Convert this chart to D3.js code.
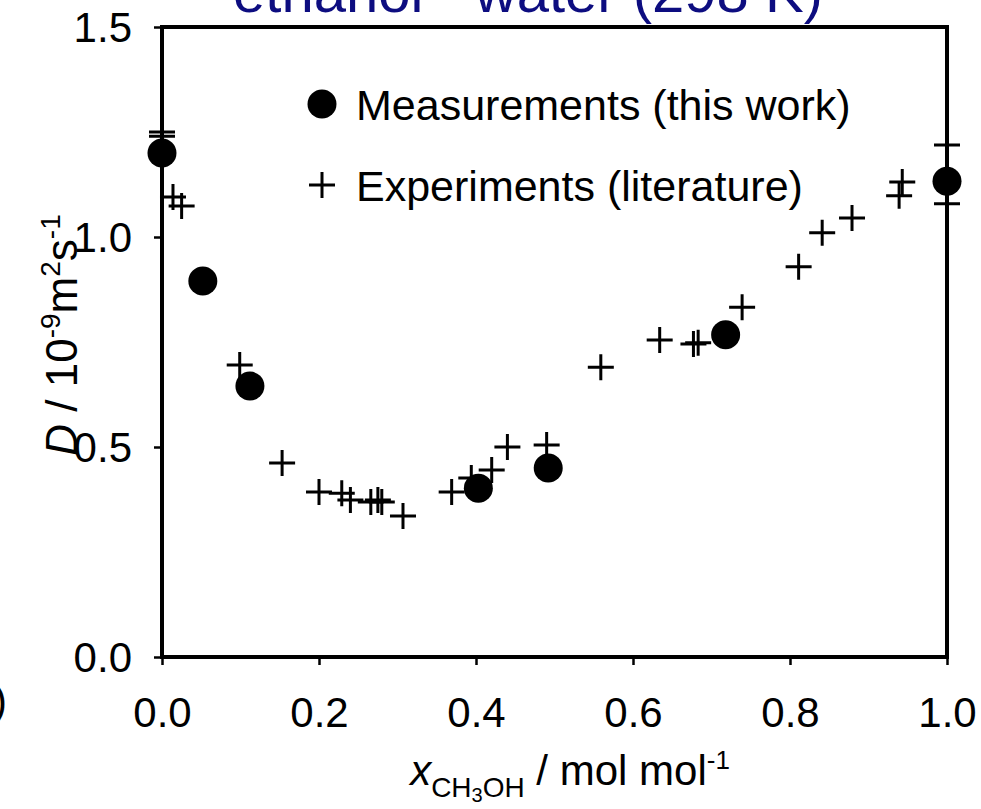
<!DOCTYPE html>
<html><head><meta charset="utf-8">
<script src="https://cdn.jsdelivr.net/npm/d3@7"></script>
<style>body{margin:0;background:#fff}svg{display:block}</style>
</head><body>
<svg id="c" width="981" height="809"></svg>
<script>
// Data
const measX = [0.0, 0.052, 0.112, 0.403, 0.492, 0.718, 1.0];
const measD = [1.20, 0.895, 0.645, 0.402, 0.450, 0.767, 1.133];
const litX = [0.0, 0.0, 0.014, 0.025, 0.099, 0.153, 0.200, 0.229, 0.240, 0.266, 0.275, 0.280, 0.307,
              0.369, 0.394, 0.420, 0.440, 0.490, 0.559, 0.634, 0.677, 0.683, 0.739, 0.811, 0.841,
              0.879, 0.939, 0.943, 1.0, 1.0];
const litD = [1.250, 1.240, 1.095, 1.074, 0.695, 0.462, 0.393, 0.390, 0.374, 0.369, 0.374, 0.369, 0.336,
              0.393, 0.426, 0.445, 0.500, 0.505, 0.690, 0.755, 0.745, 0.748, 0.833, 0.929, 1.010,
              1.045, 1.098, 1.131, 1.219, 1.079];
const xTicks = [0.0, 0.2, 0.4, 0.6, 0.8, 1.0];
const yTicks = [0.0, 0.5, 1.0, 1.5];
const titleText = "ethanol - water (298 K)";
const legendLabels = ["Measurements (this work)", "Experiments (literature)"];

const FONT = "'Liberation Sans', Arial, Helvetica, sans-serif";
const svg = d3.select("#c").style("font-family", FONT);
const L = 162, R = 947, T = 27, B = 657;
const x = d3.scaleLinear().domain([0, 1]).range([L, R]);
const y = d3.scaleLinear().domain([0, 1.5]).range([B, T]);

// title (partly cut off at top)
svg.append("text").attr("x", 528).attr("y", 12).attr("text-anchor", "middle")
  .attr("font-size", 58).attr("fill", "#0d0d80").text(titleText);

// partial panel label at far left
svg.append("text").attr("x", 7).attr("y", 715).attr("text-anchor", "end")
  .attr("font-size", 42).attr("fill", "#000").text("(b)");

// axes
const fmt = d3.format(".1f");
const gx = svg.append("g").attr("transform", `translate(0,${B})`)
  .call(d3.axisBottom(x).tickValues(xTicks).tickFormat(fmt).tickSize(8));
gx.select(".domain").remove();
gx.selectAll(".tick line").attr("stroke", "#000").attr("stroke-width", 2.5);
gx.selectAll(".tick text").attr("y", 70).attr("dy", 0).attr("font-size", 42)
  .attr("font-family", FONT).attr("fill", "#000");

const gy = svg.append("g").attr("transform", `translate(${L},0)`)
  .call(d3.axisLeft(y).tickValues(yTicks).tickFormat(fmt).tickSize(8));
gy.select(".domain").remove();
gy.selectAll(".tick line").attr("stroke", "#000").attr("stroke-width", 2.5);
gy.selectAll(".tick text").attr("x", -30).attr("dy", "0.35em").attr("font-size", 42)
  .attr("font-family", FONT).attr("fill", "#000");

// frame
svg.append("rect").attr("x", L).attr("y", T).attr("width", R - L).attr("height", B - T)
  .attr("fill", "none").attr("stroke", "#000").attr("stroke-width", 4);

// markers
const plusPath = "M-13,0H13M0,-13V13";
const lit = litX.map((v, i) => ({x: v, d: litD[i]}));
svg.append("g").selectAll("path").data(lit).join("path")
  .attr("transform", p => `translate(${x(p.x)},${y(p.d)})`)
  .attr("d", plusPath).attr("stroke", "#000").attr("stroke-width", 3).attr("fill", "none");
const meas = measX.map((v, i) => ({x: v, d: measD[i]}));
svg.append("g").selectAll("circle").data(meas).join("circle")
  .attr("cx", p => x(p.x)).attr("cy", p => y(p.d)).attr("r", 14.5).attr("fill", "#000");

// legend
svg.append("circle").attr("cx", 322).attr("cy", 104).attr("r", 14.5).attr("fill", "#000");
svg.append("text").attr("x", 356).attr("y", 120).attr("font-size", 43).text(legendLabels[0]);
svg.append("path").attr("transform", "translate(322,185)").attr("d", plusPath)
  .attr("stroke", "#000").attr("stroke-width", 3);
svg.append("text").attr("x", 356).attr("y", 201).attr("font-size", 43).text(legendLabels[1]);

// x axis title
const xt = svg.append("text").attr("x", 570).attr("y", 785).attr("text-anchor", "middle").attr("font-size", 42);
xt.append("tspan").attr("font-style", "italic").text("x");
xt.append("tspan").attr("font-size", 28).attr("dy", 12).text("CH");
xt.append("tspan").attr("font-size", 20).attr("dy", 5).text("3");
xt.append("tspan").attr("font-size", 28).attr("dy", -5).text("OH");
xt.append("tspan").attr("dy", -12).text(" / mol mol");
xt.append("tspan").attr("font-size", 26).attr("dy", -16).text("-1");

// y axis title
const yt = svg.append("text").attr("transform", "translate(77,335) rotate(-90)")
  .attr("text-anchor", "middle").attr("font-size", 44);
yt.append("tspan").attr("font-style", "italic").text("D");
yt.append("tspan").text(" / 10");
yt.append("tspan").attr("font-size", 28).attr("dy", -17).text("-9");
yt.append("tspan").attr("dy", 17).text("m");
yt.append("tspan").attr("font-size", 28).attr("dy", -17).text("2");
yt.append("tspan").attr("dy", 17).text("s");
yt.append("tspan").attr("font-size", 28).attr("dy", -17).text("-1");
</script>
</body></html>
